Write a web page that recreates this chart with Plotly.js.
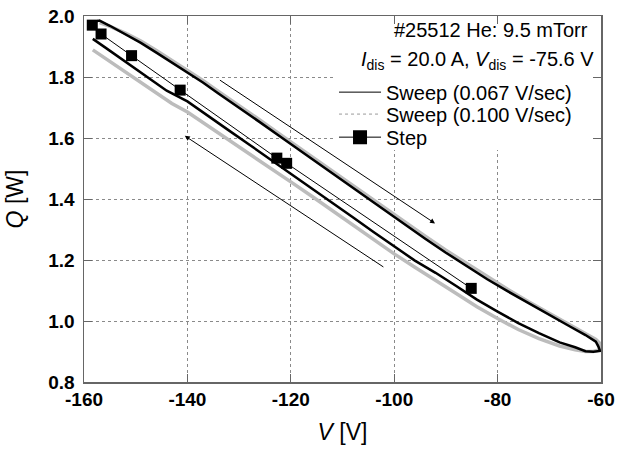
<!DOCTYPE html>
<html>
<head>
<meta charset="utf-8">
<script src="https://cdn.plot.ly/plotly-3.0.1.min.js"></script>
<style>
  html, body { margin: 0; padding: 0; background: #fff; }
  #chart { width: 617px; height: 450px; }
</style>
</head>
<body>
<div id="chart"></div>
<script>
// ---- Data ----
// Sweep 0.067 V/sec (black): forward branch (upper) and return branch (lower)
const sweep067UpV = [-158.3, -157, -155, -152, -149, -146, -143, -140, -137, -134, -130, -126, -122, -118, -114, -110, -106, -102, -98, -94, -90, -86, -82, -78, -74, -70, -66, -63, -61, -60.5];
const sweep067UpQ = [1.980, 1.985, 1.968, 1.940, 1.912, 1.880, 1.848, 1.815, 1.782, 1.746, 1.700, 1.652, 1.604, 1.556, 1.508, 1.460, 1.412, 1.364, 1.317, 1.270, 1.224, 1.180, 1.137, 1.097, 1.058, 1.020, 0.982, 0.954, 0.932, 0.916];
const sweep067DownV = [-60.2, -61.5, -63, -65, -68, -72, -76, -80, -84, -88, -92, -96, -100, -104, -108, -112, -116, -120, -124, -128, -132, -136, -140, -144, -147, -150, -153, -156, -158.3];
const sweep067DownQ = [0.902, 0.899, 0.901, 0.914, 0.930, 0.960, 0.993, 1.031, 1.070, 1.115, 1.158, 1.198, 1.244, 1.292, 1.340, 1.388, 1.436, 1.484, 1.531, 1.578, 1.625, 1.672, 1.720, 1.755, 1.790, 1.826, 1.862, 1.898, 1.925];

// Sweep 0.100 V/sec (gray)
const sweep100UpV = [-157, -155, -152, -149, -146, -143, -140, -137, -134, -130, -126, -122, -118, -114, -110, -106, -102, -98, -94, -90, -86, -82, -78, -74, -70, -66, -63, -61, -60.3];
const sweep100UpQ = [1.978, 1.966, 1.944, 1.918, 1.887, 1.855, 1.822, 1.789, 1.753, 1.707, 1.659, 1.611, 1.563, 1.515, 1.467, 1.419, 1.371, 1.324, 1.278, 1.232, 1.188, 1.145, 1.103, 1.063, 1.025, 0.988, 0.960, 0.940, 0.928];
const sweep100DownV = [-60.3, -61.5, -63, -65, -68, -72, -76, -80, -84, -88, -92, -96, -100, -104, -108, -112, -116, -120, -124, -128, -132, -136, -140, -143, -146, -149, -152, -155, -158.3];
const sweep100DownQ = [0.905, 0.900, 0.900, 0.906, 0.918, 0.942, 0.972, 1.008, 1.047, 1.090, 1.132, 1.176, 1.220, 1.268, 1.316, 1.363, 1.410, 1.456, 1.502, 1.548, 1.594, 1.640, 1.685, 1.713, 1.748, 1.783, 1.818, 1.852, 1.889];

// Step measurements
const stepV = [-158.4, -156.7, -150.8, -141.4, -122.7, -120.8, -85.1];
const stepQ = [1.970, 1.941, 1.870, 1.757, 1.534, 1.517, 1.107];

// Sweep-direction arrows: [tailV, tailQ, headV, headQ]
const arrowForward = [-134.0, 1.793, -92.1, 1.320];
const arrowReturn  = [-101.8, 1.174, -140.5, 1.607];

// Axis ticks
const xTickVals = [-160, -140, -120, -100, -80, -60];
const xTickText = ['-160', '-140', '-120', '-100', '-80', '-60'];
const yTickVals = [0.8, 1.0, 1.2, 1.4, 1.6, 1.8, 2.0];
const yTickText = ['0.8', '1.0', '1.2', '1.4', '1.6', '1.8', '2.0'];

// Text
const legendNames = ['Sweep (0.067 V/sec)', 'Sweep (0.100 V/sec)', 'Step'];
const headerLine1 = '#25512 He: 9.5 mTorr';
const headerLine2 = '<i>I</i><sub>dis</sub> = 20.0 A, <i>V</i><sub>dis</sub> = -75.6 V';

// ---- Build chart ----
const FONT = '"Liberation Sans", Arial, Helvetica, sans-serif';

const traces = [
  { // gray sweep loop
    x: sweep100UpV.concat(sweep100DownV),
    y: sweep100UpQ.concat(sweep100DownQ),
    mode: 'lines', type: 'scatter',
    line: { color: '#bcbcbc', width: 3.5 },
    showlegend: false, hoverinfo: 'skip'
  },
  { // black sweep loop
    x: sweep067UpV.concat(sweep067DownV),
    y: sweep067UpQ.concat(sweep067DownQ),
    mode: 'lines', type: 'scatter',
    line: { color: '#000', width: 2.5 },
    showlegend: false, hoverinfo: 'skip'
  },
  { // step
    x: stepV, y: stepQ,
    mode: 'lines+markers', type: 'scatter',
    name: legendNames[2],
    line: { color: '#000', width: 1 },
    marker: { symbol: 'square', size: 11, color: '#000' },
    showlegend: false
  },
  // legend entries (one legend box per row so rows can sit as tight as the reference)
  { x: [null], y: [null], mode: 'lines', type: 'scatter', name: legendNames[0],
    legend: 'legend', line: { color: '#000', width: 1 } },
  { x: [null], y: [null], mode: 'lines', type: 'scatter', name: legendNames[1],
    legend: 'legend2', line: { color: '#999', width: 1, dash: 'dot' } },
  { x: [null], y: [null], mode: 'lines+markers', type: 'scatter', name: legendNames[2],
    legend: 'legend3', line: { color: '#000', width: 1 }, marker: { symbol: 'square', size: 14, color: '#000' } }
];

function arrowAnn(a) {
  return {
    x: a[2], y: a[3], ax: a[0], ay: a[1],
    xref: 'x', yref: 'y', axref: 'x', ayref: 'y',
    text: '', showarrow: true,
    arrowhead: 2, arrowsize: 1, arrowwidth: 1, arrowcolor: '#000',
    standoff: 0, startstandoff: 0
  };
}

const axisCommon = {
  showline: true, linecolor: '#666', linewidth: 1.5, mirror: 'ticks',
  ticks: 'inside', ticklen: 8, tickcolor: '#666', tickwidth: 1,
  showgrid: true, gridcolor: '#8a8a8a', griddash: 'dot', gridwidth: 1,
  zeroline: false,
  tickfont: { family: FONT, size: 19, color: '#000', weight: 'bold' }
};

function legendAt(yPaper) {
  return {
    x: 0.4836, y: yPaper, xanchor: 'left', yanchor: 'middle',
    bgcolor: 'rgba(255,255,255,0)', borderwidth: 0,
    font: { family: FONT, size: 20, color: '#000' },
    itemwidth: 42
  };
}

const layout = {
  width: 617, height: 450,
  margin: { l: 84, r: 16, t: 16, b: 68 },
  paper_bgcolor: '#fff', plot_bgcolor: '#fff',
  font: { family: FONT, color: '#000' },
  xaxis: Object.assign({}, axisCommon, {
    range: [-160, -60], tickmode: 'array', tickvals: xTickVals, ticktext: xTickText,
    title: { text: '<i>V</i> [V]', font: { family: FONT, size: 23 }, standoff: 14 }
  }),
  yaxis: Object.assign({}, axisCommon, {
    range: [0.8, 2.0], tickmode: 'array', tickvals: yTickVals, ticktext: yTickText,
    ticklabelstandoff: 4,
    title: { text: '<i>Q</i> [W]', font: { family: FONT, size: 23 }, standoff: 18 }
  }),
  showlegend: true,
  legend: legendAt(0.792),
  legend2: legendAt(0.732),
  legend3: legendAt(0.669),
  shapes: [{
    type: 'rect', xref: 'x', yref: 'y', layer: 'between',
    x0: -111.6, x1: -60, y0: 1.561, y1: 2.0,
    fillcolor: '#fff', line: { width: 0 }
  }],
  annotations: [
    { xref: 'paper', yref: 'paper', x: 0.979, y: 0.962, xanchor: 'right', yanchor: 'middle',
      text: headerLine1, showarrow: false, font: { family: FONT, size: 20, color: '#000' } },
    { xref: 'paper', yref: 'paper', x: 0.991, y: 0.878, xanchor: 'right', yanchor: 'middle',
      text: headerLine2, showarrow: false, font: { family: FONT, size: 20, color: '#000' } },
    arrowAnn(arrowForward),
    arrowAnn(arrowReturn)
  ]
};

Plotly.newPlot('chart', traces, layout, { staticPlot: true, displayModeBar: false });
</script>
</body>
</html>
